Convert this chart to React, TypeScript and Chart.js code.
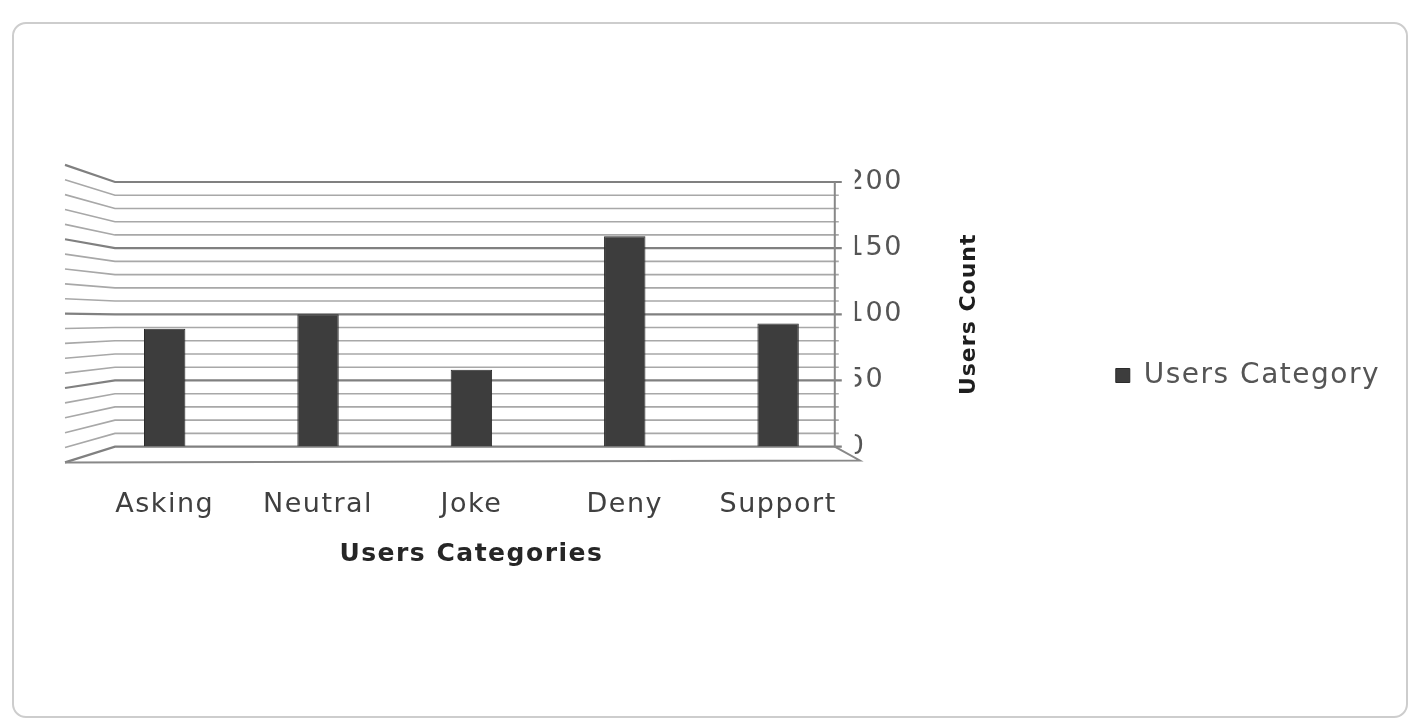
import React, { useEffect, useRef } from 'react';
import { Chart, registerables } from 'chart.js';

Chart.register(...registerables);

const categories: string[] = ['Asking', 'Neutral', 'Joke', 'Deny', 'Support'];
const usersCategory: number[] = [89, 100, 58, 159, 93];
const seriesLabel = 'Users Category';
const xTitle = 'Users Categories';
const yTitle = 'Users Count';
const yMin = 0;
const yMax = 200;
const yStep = 50;
const gridStep = 10;

const FONT = "'DejaVu Sans', sans-serif";

export default function App() {
  const ref = useRef<HTMLCanvasElement>(null);

  useEffect(() => {
    const canvas = ref.current;
    if (!canvas) return;

    const spacing = {
      id: 'spacing',
      beforeUpdate(c: any) { c.ctx.letterSpacing = '1.5px'; },
      beforeDraw(c: any) { c.ctx.letterSpacing = '1.5px'; },
    };

    const wall = {
      id: 'wall',
      beforeDatasetsDraw(c: any) {
        const { ctx, chartArea: a } = c;
        const y = c.scales.y;
        const xr = a.right - 20;
        const xl = a.left + 27;
        const xs = xl - 50;
        const cy = y.getPixelForValue(96);
        const k = 1.1245;
        ctx.save();
        for (let v = yMin; v <= yMax; v += gridStep) {
          const py = y.getPixelForValue(v);
          const major = v % yStep === 0;
          ctx.strokeStyle = major ? '#808080' : '#a8a8a8';
          ctx.lineWidth = major ? 2.2 : 1.6;
          ctx.beginPath();
          ctx.moveTo(xs, cy + (py - cy) * k);
          ctx.lineTo(xl, py);
          ctx.lineTo(xr + (major ? 7 : 4), py);
          ctx.stroke();
        }
        const y0 = y.getPixelForValue(yMin);
        const yTop = y.getPixelForValue(yMax);
        const yf = cy + (y0 - cy) * k;
        ctx.strokeStyle = '#888888';
        ctx.lineWidth = 2;
        ctx.beginPath();
        ctx.moveTo(xr, yTop);
        ctx.lineTo(xr, y0);
        ctx.lineTo(xr + 25, yf - 2);
        ctx.lineTo(xs, yf);
        ctx.stroke();
        ctx.restore();
      },
    };

    const yTitlePlugin = {
      id: 'ytitle',
      afterDraw(c: any) {
        const { ctx, chartArea: a } = c;
        ctx.save();
        ctx.letterSpacing = '1px';
        ctx.translate(a.right + 114, (a.top + a.bottom) / 2);
        ctx.rotate(-Math.PI / 2);
        ctx.font = `bold 22px ${FONT}`;
        ctx.fillStyle = '#1e1e1e';
        ctx.textAlign = 'center';
        ctx.textBaseline = 'middle';
        ctx.fillText(yTitle, 0, 0);
        ctx.restore();
      },
    };

    const chart = new Chart(canvas, {
      type: 'bar',
      data: {
        labels: categories,
        datasets: [
          {
            label: seriesLabel,
            data: usersCategory,
            backgroundColor: '#3d3d3d',
            borderColor: '#2b2b2b',
            borderWidth: 1,
            categoryPercentage: 1,
            barPercentage: 0.27,
          },
        ],
      },
      options: {
        responsive: false,
        animation: false,
        layout: { padding: { left: 74, top: 158, bottom: 145, right: 14 } },
        plugins: {
          legend: {
            position: 'right',
            labels: {
              boxWidth: 14,
              boxHeight: 14,
              color: '#555555',
              font: { family: FONT, size: 28 },
              padding: 10,
            },
          },
          tooltip: { enabled: false },
        },
        scales: {
          x: {
            grid: { display: false, drawTicks: false },
            border: { display: false },
            ticks: {
              color: '#404040',
              font: { family: FONT, size: 27 },
              padding: 42,
              maxRotation: 0,
              autoSkip: false,
            },
            title: {
              display: true,
              text: xTitle,
              color: '#262626',
              font: { family: FONT, size: 25, weight: 'bold' },
              padding: { top: -24, bottom: 0 },
            },
          },
          y: {
            position: 'right',
            min: yMin,
            max: yMax,
            grid: { display: false, drawTicks: false },
            border: { display: false },
            ticks: {
              stepSize: yStep,
              color: '#555555',
              font: { family: FONT, size: 27 },
              padding: -8,
            },
            afterFit(s: any) { s.width = 251; },
          },
        },
      },
      plugins: [spacing, wall, yTitlePlugin],
    } as any);

    return () => chart.destroy();
  }, []);

  return (
    <div style={{ position: 'fixed', left: 0, top: 0, width: 1414, height: 724, background: '#ffffff' }}>
      <div
        style={{
          position: 'absolute',
          left: 12,
          top: 22,
          width: 1392,
          height: 692,
          border: '2px solid #cdcdcd',
          borderRadius: 14,
        }}
      >
        <canvas ref={ref} width={1390} height={690} style={{ position: 'absolute', left: 0, top: 0 }} />
      </div>
    </div>
  );
}
